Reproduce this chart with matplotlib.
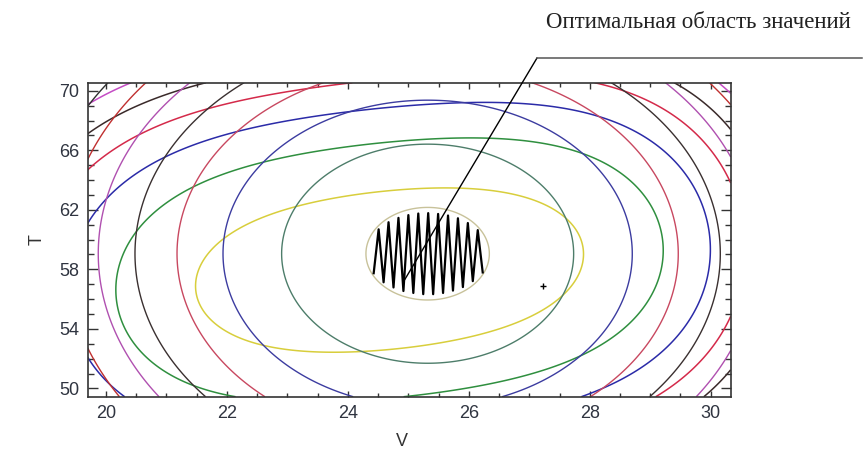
import numpy as np
import matplotlib
matplotlib.use("Agg")
import matplotlib.pyplot as plt
from matplotlib.lines import Line2D
from matplotlib.ticker import MultipleLocator

# ---- axes ranges and tick labels ----
v_ticks = [20, 22, 24, 26, 28, 30]
t_ticks = [50, 54, 58, 62, 66, 70]
v_lim = (19.70, 30.33)
t_lim = (49.44, 70.54)
t_aspect = 4.066          # T units per V unit on screen

# ---- response surface 1 (horizontally elongated family) ----
s1_center = (24.69, 57.95)
s1_axes = (3.88, 1.306)   # semi-axes (V units, T scaled by aspect)
s1_tilt_deg = 6.0
s1_quartic = 0.655
s1_levels = [1.0, 2.6, 4.2, 5.8, 7.4, 9.0, 10.6, 12.2]
s1_colors = ['#d8ce3c', '#2f8f3f', '#2b2ba8', '#d42a4a', '#3a2a2a',
             '#c44cc4', '#a83a3a', '#303030']

# ---- response surface 2 (vertically elongated family) ----
s2_center = (25.32, 59.05)
s2_axes = (1.02, 0.765)
s2_levels = [1.0, 5.6, 11.0, 16.5, 22.5, 28.5, 34.5, 40.5, 46.5, 52.5]
s2_colors = ['#c8c29a', '#4d7d6a', '#3c3ca0', '#c84860', '#3a3030',
             '#b050b0', '#c03030', '#303030', '#b050b0', '#c03030']

# ---- marks ----
cross_v = [27.22]
cross_t = [56.9]
pointer_v, pointer_t = 24.94, 57.3
label_text = 'Оптимальная область значений'


def f1(V, T):
    x = V - s1_center[0]
    y = (T - s1_center[1]) / t_aspect
    th = np.deg2rad(s1_tilt_deg)
    up = x * np.cos(th) + y * np.sin(th)
    wp = -x * np.sin(th) + y * np.cos(th)
    u = up / s1_axes[0]
    w = wp / s1_axes[1]
    return u ** 2 + s1_quartic * u ** 4 + w ** 2


def f2(V, T):
    x = V - s2_center[0]
    y = (T - s2_center[1]) / t_aspect
    u = x / s2_axes[0]
    s = y / s2_axes[1]
    return u ** 2 + s ** 2


fig = plt.figure(figsize=(8.64, 4.5), dpi=100)
ax = fig.add_axes([0.1015, 0.1184, 0.7442, 0.6978])

vv = np.linspace(v_lim[0], v_lim[1], 700)
tt = np.linspace(t_lim[0], t_lim[1], 700)
VV, TT = np.meshgrid(vv, tt)
Z1 = f1(VV, TT)
Z2 = f2(VV, TT)

ax.contour(VV, TT, Z1, levels=s1_levels, colors=s1_colors, linewidths=1.1)
ax.contour(VV, TT, Z2, levels=s2_levels, colors=s2_colors, linewidths=1.0)

# zigzag hatch over the optimal region (inside both innermost contours)
inside = (Z1 <= s1_levels[0]) & (Z2 <= s2_levels[0])
cols = np.where(inside.any(axis=0))[0]
v_left, v_right = vv[cols[0]], vv[cols[-1]]
n_seg = 22
zx = np.linspace(v_left + 0.12, v_right - 0.1, n_seg + 1)
zy = []
for i, x in enumerate(zx):
    j = np.argmin(np.abs(vv - x))
    ts = tt[inside[:, j]]
    lo, hi = ts.min(), ts.max()
    pad = 0.06 * (hi - lo)
    zy.append(lo + pad if i % 2 == 0 else hi - pad)
ax.plot(zx, zy, color='black', lw=1.6)

ax.plot(cross_v, cross_t, marker='+', color='black', ms=5, mew=1.0, ls='none')

ax.set_xlim(*v_lim)
ax.set_ylim(*t_lim)
ax.set_xticks(v_ticks)
ax.set_yticks(t_ticks)
ax.xaxis.set_minor_locator(MultipleLocator(0.5))
ax.yaxis.set_minor_locator(MultipleLocator(1))
ax.tick_params(which='both', direction='in', top=True, right=True,
               colors='#333333', labelsize=13, width=1.0)
ax.tick_params(axis='x', which='major', length=4.5, pad=6)
ax.tick_params(axis='x', which='minor', length=2.8)
ax.tick_params(axis='y', which='major', length=7.5, pad=6)
ax.tick_params(axis='y', which='minor', length=4.5)
for lab in ax.get_xticklabels() + ax.get_yticklabels():
    lab.set_fontfamily('Liberation Sans')
    lab.set_color('#2f3440')
for sp in ax.spines.values():
    sp.set_color('#333333')
    sp.set_linewidth(1.2)

fig.text(37 / 864, 1 - 240 / 450, 'T', rotation=90, ha='center', va='center',
         fontsize=13, color='#333333', family='Liberation Sans')
fig.text(402 / 864, 1 - 442 / 450, 'V', ha='center', va='center',
         fontsize=13, color='#333333', family='Liberation Sans')

fig.text(546 / 864, 1 - 23 / 450, label_text, ha='left', va='center',
         fontsize=16.5, color='#222222', family='Liberation Serif')
corner = (537 / 864, 1 - 58 / 450)
fig.add_artist(Line2D([corner[0], 862 / 864], [corner[1], corner[1]],
                      transform=fig.transFigure, color='#555555', lw=1.1))
ax.annotate('', xy=(pointer_v, pointer_t), xycoords='data',
            xytext=corner, textcoords='figure fraction',
            arrowprops=dict(arrowstyle='-', color='black', lw=1.0,
                            shrinkA=0, shrinkB=0))

fig.savefig('out.png', dpi=100, facecolor='white')
